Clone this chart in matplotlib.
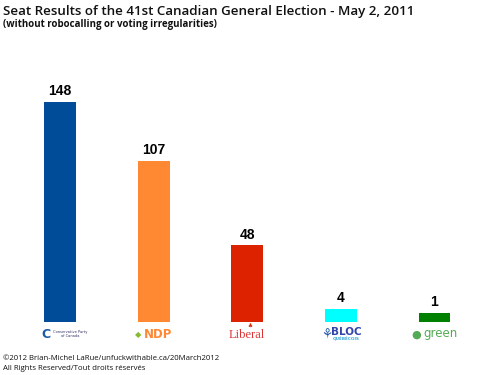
import matplotlib
matplotlib.use("Agg")
import matplotlib.pyplot as plt

parties = ["Conservative", "NDP", "Liberal", "Bloc Québécois", "Green"]
seats = [148, 107, 48, 4, 1]
colors = ["#004c99", "#ff8833", "#dd2200", "#00ffff", "#008000"]

title = "Seat Results of the 41st Canadian General Election - May 2, 2011"
subtitle = "(without robocalling or voting irregularities)"
footer1 = "\u00a92012 Brian-Michel LaRue/unfuckwithable.ca/20March2012"
footer2 = "All Rights Reserved/Tout droits r\u00e9serv\u00e9s"

baseline = -5  # visual floor of the bars

fig = plt.figure(figsize=(5, 3.75), dpi=100)
fig.patch.set_facecolor("white")
ax = fig.add_axes([13.2 / 500, 53.3 / 375, 468.1 / 500, 237.3 / 375])
x = list(range(len(seats)))
bars = ax.bar(x, [s - baseline for s in seats], bottom=baseline, width=0.34, color=colors)
ax.set_xlim(-0.5, 4.5)
ax.set_ylim(baseline, 160)
ax.axis("off")

for xi, s in zip(x, seats):
    ax.annotate(str(s), xy=(xi, s), xytext=(0, 4.8), textcoords="offset points",
                ha="center", va="baseline", fontsize=10, fontweight="bold",
                family="Liberation Sans", color="black")

# party "logos" as text
tr = ax.get_xaxis_transform()
def lab(xi, dx, dy, txt, **kw):
    ax.annotate(txt, xy=(xi, 0), xycoords=tr, xytext=(dx, dy), textcoords="offset points",
                annotation_clip=False, **kw)

# Conservative
lab(0, -10, -9, "C", ha="center", va="center", fontsize=9, fontweight="bold", color="#1a5aa8", family="DejaVu Sans")
lab(0, 7.5, -9, "Conservative Party\nof Canada", ha="center", va="center", fontsize=2.6, color="#333366", linespacing=1.0)
# NDP
lab(1, -11, -9, "\u25c6", ha="center", va="center", fontsize=6, color="#88bb33")
lab(1, 3, -9, "NDP", ha="center", va="center", fontsize=8.5, fontweight="bold", color="#ff8833", family="DejaVu Sans")
# Liberal
lab(2, 0, -9.5, "Liberal", ha="center", va="center", fontsize=9, color="#dd3333", family="Liberation Serif")
lab(2, 1.5, -3.5, "\u2663", ha="center", va="center", fontsize=4, color="#dd2200")
# Bloc
lab(3, -10, -9.5, "\u2698", ha="center", va="center", fontsize=9, color="#2255aa", fontweight="bold")
lab(3, 4, -7.5, "BLOC", ha="center", va="center", fontsize=7.5, fontweight="bold", color="#3344aa", family="DejaVu Sans")
lab(3, 4, -12.5, "QU\u00c9B\u00c9COIS", ha="center", va="center", fontsize=3, fontweight="bold", color="#33aadd")
# Green
lab(4, -13, -9, "\u25cf", ha="center", va="center", fontsize=8, color="#55aa55")
lab(4, 4, -8.5, "green", ha="center", va="center", fontsize=8.5, color="#55aa55", family="DejaVu Sans")

fig.text(3 / 500, 1 - 15 / 375, title, ha="left", va="baseline", fontsize=9.6,
         family="Open Sans", fontweight="semibold", color="#111111")
fig.text(3 / 500, 1 - 27 / 375, subtitle, ha="left", va="baseline", fontsize=7,
         family="Open Sans", fontweight="bold", color="#111111")
fig.text(3 / 500, 1 - 360 / 375, footer1, ha="left", va="baseline", fontsize=5.6,
         family="Open Sans", color="#111111")
fig.text(3 / 500, 1 - 370.5 / 375, footer2, ha="left", va="baseline", fontsize=5.6,
         family="Open Sans", color="#111111")

fig.savefig("out.png", dpi=100, facecolor="white")
